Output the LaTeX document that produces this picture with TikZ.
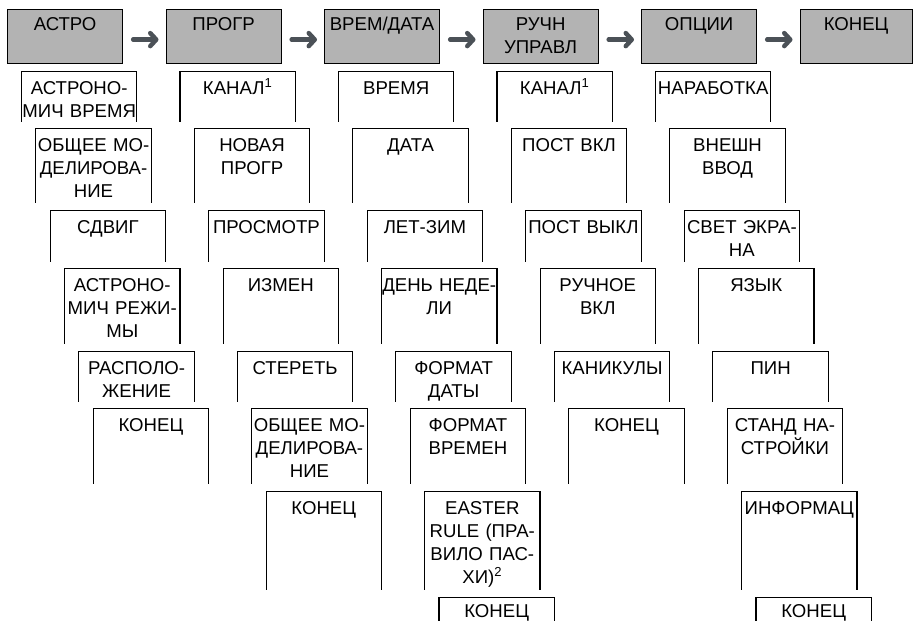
\documentclass[tikz,border=0pt]{standalone}
\usepackage{fontspec}
\setmainfont{Liberation Sans}
\usepackage{tikz}
\usetikzlibrary{arrows.meta}

\definecolor{headgray}{RGB}{179,179,179}
\definecolor{arrowgray}{RGB}{75,81,87}
% row tops, row heights and first baselines of the sub-menu boxes (pixels, y down)
\newcommand{\rowtops}{{71.5,128.5,210.5,268.5,351.5,408.5,491.5,597.5}}
\newcommand{\rowheights}{{50,74,51,75,50,75,98,33}}
\newcommand{\rowbases}{{22.5,22.5,22.5,22.5,22.5,22.5,22.5,19.5}}

\begin{document}
\begin{tikzpicture}[
    x=1pt, y=-1pt,
    font=\fontsize{18.6}{23}\selectfont,
    menubox/.style={rectangle, draw=black, fill=headgray, line width=1.2pt, text width=115pt, inner sep=0pt, align=center, anchor=north west, text height=21.5pt, text depth=32.5pt},
    subitem/.style={rectangle, text width=115pt, inner sep=0pt, align=center, anchor=north west},
    opensides/.style={draw=black, line width=1.1pt},
    flowarrow/.style={draw=arrowgray, line width=4.5pt, line cap=round, shorten <=10pt, shorten >=7pt, -{Straight Barb[length=6pt, width=13pt, round]}}
]
\useasboundingbox (0,0) rectangle (913,621);

% ─── Main menu (top row) ─────────────────────────────────────────────
\node[menubox] (astro) at (7, 8.5) {АСТРО};
\node[menubox] (progr) at (165.5, 8.5) {ПРОГР};
\node[menubox] (vremdata) at (324, 8.5) {ВРЕМ/ДАТА};
\node[menubox] (ruchn) at (482.5, 8.5) {РУЧН\\УПРАВЛ};
\node[menubox] (optsii) at (641, 8.5) {ОПЦИИ};
\node[menubox, text width=112pt] (konets) at (799.5, 8.5) {КОНЕЦ};

\foreach \src/\dst in {astro/progr, progr/vremdata, vremdata/ruchn, ruchn/optsii, optsii/konets}
    \draw[flowarrow] ([yshift=-3.5pt]\src.east) -- ([yshift=-3.5pt]\dst.west);

% ─── АСТРО submenu ───────────────────────────────────────────────────
\foreach \r/\t in {0/{АСТРОНО-\\МИЧ~ВРЕМЯ}, 1/{ОБЩЕЕ~МО-\\ДЕЛИРОВА-\\НИЕ}, 2/СДВИГ, 3/{АСТРОНО-\\МИЧ~РЕЖИ-\\МЫ}, 4/{РАСПОЛО-\\ЖЕНИЕ}, 5/КОНЕЦ} {
    \pgfmathsetmacro{\yt}{\rowtops[\r]}
    \pgfmathsetmacro{\hb}{\rowbases[\r]}
    \pgfmathsetmacro{\dep}{\rowheights[\r]-\hb}
    \node[subitem, text height=\hb pt, text depth=\dep pt] (astro\r) at ({21.5+14.35*\r}, \yt) {\t};
    \draw[opensides] (astro\r.south west) |- (astro\r.north) -| (astro\r.south east);
}

% ─── ПРОГР submenu ───────────────────────────────────────────────────
\foreach \r/\t in {0/{КАНАЛ\textsuperscript{1}}, 1/{НОВАЯ\\ПРОГР}, 2/ПРОСМОТР, 3/ИЗМЕН, 4/СТЕРЕТЬ, 5/{ОБЩЕЕ~МО-\\ДЕЛИРОВА-\\НИЕ}, 6/КОНЕЦ} {
    \pgfmathsetmacro{\yt}{\rowtops[\r]}
    \pgfmathsetmacro{\hb}{\rowbases[\r]}
    \pgfmathsetmacro{\dep}{\rowheights[\r]-\hb}
    \node[subitem, text height=\hb pt, text depth=\dep pt] (progr\r) at ({180+14.35*\r}, \yt) {\t};
    \draw[opensides] (progr\r.south west) |- (progr\r.north) -| (progr\r.south east);
}

% ─── ВРЕМ/ДАТА submenu ───────────────────────────────────────────────
\foreach \r/\t in {0/ВРЕМЯ, 1/ДАТА, 2/ЛЕТ-ЗИМ, 3/{ДЕНЬ~НЕДЕ-\\ЛИ}, 4/{ФОРМАТ\\ДАТЫ}, 5/{ФОРМАТ\\ВРЕМЕН}, 6/{EASTER\\RULE~(ПРА-\\ВИЛО~ПАС-\\ХИ)\textsuperscript{2}}, 7/КОНЕЦ} {
    \pgfmathsetmacro{\yt}{\rowtops[\r]}
    \pgfmathsetmacro{\hb}{\rowbases[\r]}
    \pgfmathsetmacro{\dep}{\rowheights[\r]-\hb}
    \node[subitem, text height=\hb pt, text depth=\dep pt] (vremdata\r) at ({338.5+14.35*\r}, \yt) {\t};
    \draw[opensides] (vremdata\r.south west) |- (vremdata\r.north) -| (vremdata\r.south east);
}

% ─── РУЧН УПРАВЛ submenu ─────────────────────────────────────────────
\foreach \r/\t in {0/{КАНАЛ\textsuperscript{1}}, 1/ПОСТ~ВКЛ, 2/ПОСТ~ВЫКЛ, 3/{РУЧНОЕ\\ВКЛ}, 4/КАНИКУЛЫ, 5/КОНЕЦ} {
    \pgfmathsetmacro{\yt}{\rowtops[\r]}
    \pgfmathsetmacro{\hb}{\rowbases[\r]}
    \pgfmathsetmacro{\dep}{\rowheights[\r]-\hb}
    \node[subitem, text height=\hb pt, text depth=\dep pt] (ruchn\r) at ({497+14.35*\r}, \yt) {\t};
    \draw[opensides] (ruchn\r.south west) |- (ruchn\r.north) -| (ruchn\r.south east);
}

% ─── ОПЦИИ submenu ───────────────────────────────────────────────────
\foreach \r/\t in {0/НАРАБОТКА, 1/{ВНЕШН\\ВВОД}, 2/{СВЕТ~ЭКРА-\\НА}, 3/ЯЗЫК, 4/ПИН, 5/{СТАНД~НА-\\СТРОЙКИ}, 6/ИНФОРМАЦ, 7/КОНЕЦ} {
    \pgfmathsetmacro{\yt}{\rowtops[\r]}
    \pgfmathsetmacro{\hb}{\rowbases[\r]}
    \pgfmathsetmacro{\dep}{\rowheights[\r]-\hb}
    \node[subitem, text height=\hb pt, text depth=\dep pt] (optsii\r) at ({655.5+14.35*\r}, \yt) {\t};
    \draw[opensides] (optsii\r.south west) |- (optsii\r.north) -| (optsii\r.south east);
}

\end{tikzpicture}
\end{document}
